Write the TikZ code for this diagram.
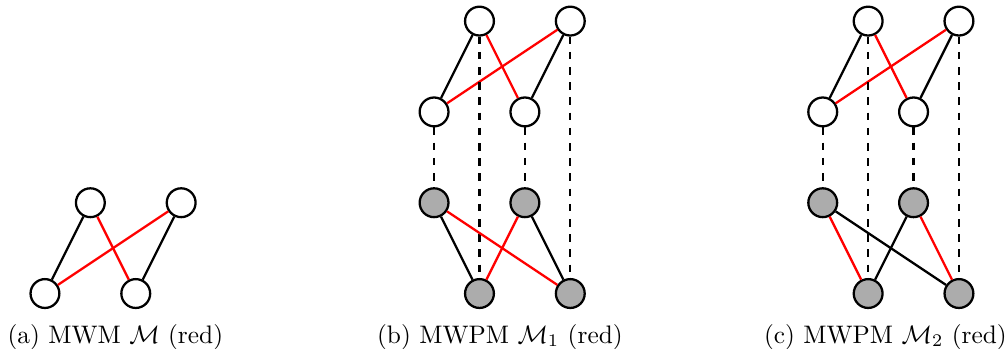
\documentclass[tikz,border=0pt]{standalone}
\usepackage{tikz}
\usetikzlibrary{positioning}
\usepackage{amsmath,amssymb}

\begin{document}
\begin{tikzpicture}[x=0.63cm,y=0.63cm,
  vtx/.style={circle,draw,line width=0.9pt,fill=white,minimum size=0.4cm,inner sep=0pt},
  gvtx/.style={vtx,fill=gray!65},
  edg/.style={line width=0.9pt,black},
  medg/.style={line width=0.9pt,red},
  lnk/.style={line width=0.9pt,dashed},
  subcap/.style={anchor=base,font=\normalsize}]
  \useasboundingbox (-0.99,-1.22) rectangle (21.21,6.465);
  % (a)
  \node[vtx] (a1) at (1,2) {};
  \node[vtx] (a2) at (3,2) {};
  \node[vtx] (a3) at (0,0) {};
  \node[vtx] (a4) at (2,0) {};
  \draw[edg]  (a1) -- (a3);
  \draw[edg]  (a2) -- (a4);
  \draw[medg] (a2) -- (a3);
  \draw[medg] (a1) -- (a4);
  \node[subcap] (capa) at (1.55,-1.09) {(a) MWM $\mathcal{M}$ (red)};
  % (b)
  \begin{scope}[shift={(8.57,0)}]
    \node[vtx]  (bt1) at (1,6) {};
    \node[vtx]  (bt2) at (3,6) {};
    \node[vtx]  (bm1) at (0,4) {};
    \node[vtx]  (bm2) at (2,4) {};
    \node[gvtx] (bg1) at (0,2) {};
    \node[gvtx] (bg2) at (2,2) {};
    \node[gvtx] (bb1) at (1,0) {};
    \node[gvtx] (bb2) at (3,0) {};
    \draw[edg]  (bt1) -- (bm1);
    \draw[medg] (bt1) -- (bm2);
    \draw[medg] (bt2) -- (bm1);
    \draw[edg]  (bt2) -- (bm2);
    \draw[lnk]  (bm1) -- (bg1);
    \draw[lnk]  (bm2) -- (bg2);
    \draw[lnk]  (bt1) -- (bb1);
    \draw[lnk]  (bt2) -- (bb2);
    \draw[edg]  (bg1) -- (bb1);
    \draw[medg] (bg1) -- (bb2);
    \draw[medg] (bg2) -- (bb1);
    \draw[edg]  (bg2) -- (bb2);
    \node[subcap] (capb) at (1.45,-1.09) {(b) MWPM $\mathcal{M}_1$ (red)};
  \end{scope}
  % (c)
  \begin{scope}[shift={(17.13,0)}]
    \node[vtx]  (ct1) at (1,6) {};
    \node[vtx]  (ct2) at (3,6) {};
    \node[vtx]  (cm1) at (0,4) {};
    \node[vtx]  (cm2) at (2,4) {};
    \node[gvtx] (cg1) at (0,2) {};
    \node[gvtx] (cg2) at (2,2) {};
    \node[gvtx] (cb1) at (1,0) {};
    \node[gvtx] (cb2) at (3,0) {};
    \draw[edg]  (ct1) -- (cm1);
    \draw[medg] (ct1) -- (cm2);
    \draw[medg] (ct2) -- (cm1);
    \draw[edg]  (ct2) -- (cm2);
    \draw[lnk]  (cm1) -- (cg1);
    \draw[lnk]  (cm2) -- (cg2);
    \draw[lnk]  (ct1) -- (cb1);
    \draw[lnk]  (ct2) -- (cb2);
    \draw[medg] (cg1) -- (cb1);
    \draw[edg]  (cg1) -- (cb2);
    \draw[edg]  (cg2) -- (cb1);
    \draw[medg] (cg2) -- (cb2);
    \node[subcap] (capc) at (1.38,-1.09) {(c) MWPM $\mathcal{M}_2$ (red)};
  \end{scope}
\end{tikzpicture}
\end{document}
